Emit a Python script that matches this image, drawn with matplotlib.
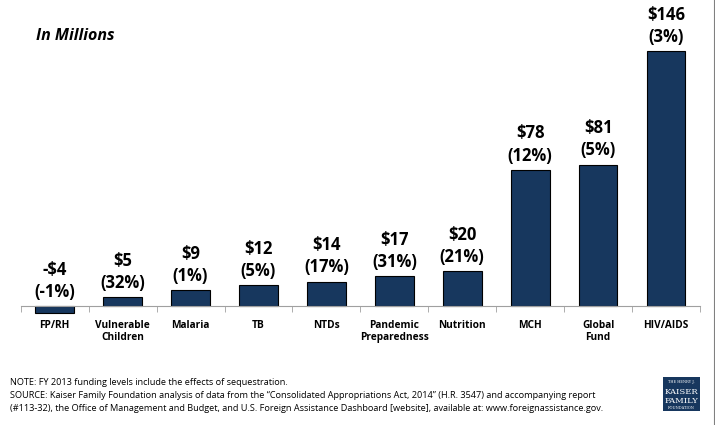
import matplotlib.pyplot as plt
from matplotlib.patches import Rectangle
import numpy as np

categories = ['FP/RH', 'Vulnerable\nChildren', 'Malaria', 'TB', 'NTDs',
              'Pandemic\nPreparedness', 'Nutrition', 'MCH', 'Global\nFund', 'HIV/AIDS']
values = [-4, 5, 9, 12, 14, 17, 20, 78, 81, 146]
pct = [-1, 32, 1, 5, 17, 31, 21, 12, 5, 3]

plt.rcParams['font.family'] = ['Open Sans', 'DejaVu Sans']

fig = plt.figure(figsize=(7.15, 4.25), dpi=100)
ax = fig.add_axes([0.029, 0.239, 0.950, 0.719])

x = np.arange(len(categories))
ax.bar(x, values, width=0.57, color='#17375E', edgecolor='black', linewidth=0.8)

for xi, v, p in zip(x, values, pct):
    lab = ('-$%d' % abs(v) if v < 0 else '$%d' % v) + '\n(%d%%)' % p
    ax.text(xi, max(v, 0) + 3.0, lab, ha='center', va='bottom', fontsize=12,
            fontweight='bold', linespacing=1.3, clip_on=False)

ax.set_xlim(-0.5, len(categories) - 0.5)
ax.set_ylim(-10, 165)
ax.set_yticks([])
for s in ['left', 'right', 'top']:
    ax.spines[s].set_visible(False)
ax.spines['bottom'].set_position(('data', 0))
ax.spines['bottom'].set_color('#A0A0A0')
ax.set_xticks(x)
ax.set_xticklabels(categories, fontsize=7.3, fontweight='bold')
ax.tick_params(axis='x', which='major', length=0, pad=10)
ax.set_xticks(np.arange(-0.5, len(categories)), minor=True)
ax.tick_params(axis='x', which='minor', length=4, color='#A0A0A0', direction='out')
ax.patch.set_alpha(0)

fig.text(0.050, 0.905, 'In Millions', fontsize=11.5, fontweight='bold', style='italic')

notes = ['NOTE: FY 2013 funding levels include the effects of sequestration.',
         'SOURCE: Kaiser Family Foundation analysis of data from the \u201cConsolidated Appropriations Act, 2014\u201d (H.R. 3547) and accompanying report',
         '(#113-32), the Office of Management and Budget, and U.S. Foreign Assistance Dashboard [website], available at: www.foreignassistance.gov.']
for i, n in enumerate(notes):
    fig.text(0.014, 0.095 - i * 0.031, n, fontsize=6.6, va='baseline')

fig.patches.append(Rectangle((0.927, 0.034), 0.052, 0.078, transform=fig.transFigure,
                             facecolor='#17375E', edgecolor='none'))
fig.text(0.953, 0.100, 'THE HENRY J.', color='white', fontsize=2.6, ha='center',
         family='DejaVu Serif')
fig.text(0.953, 0.072, 'KAISER', color='white', fontsize=6, ha='center', family='DejaVu Serif')
fig.text(0.953, 0.052, 'FAMILY', color='white', fontsize=6, ha='center', family='DejaVu Serif')
fig.text(0.953, 0.038, 'FOUNDATION', color='white', fontsize=2.6, ha='center', family='DejaVu Serif')

fig.add_artist(plt.Line2D([0.998, 0.998], [0, 1], transform=fig.transFigure,
                          color='#808080', linewidth=0.8))

fig.savefig('out.png', dpi=100)
